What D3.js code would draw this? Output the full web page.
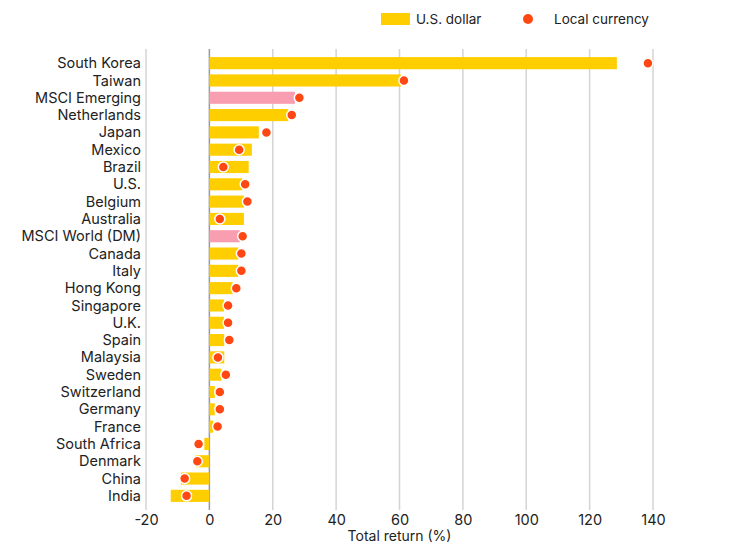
<!DOCTYPE html>
<html>
<head>
<meta charset="utf-8">
<script src="https://cdn.jsdelivr.net/npm/d3@7"></script>
<style>
  body { margin: 0; background: #fff; }
  text { font-family: Inter, "Noto Sans", sans-serif; fill: #222; }
</style>
</head>
<body>
<div id="chart"></div>
<script>
// DATA
const countries = ["South Korea", "Taiwan", "MSCI Emerging", "Netherlands", "Japan", "Mexico", "Brazil", "U.S.",
    "Belgium", "Australia", "MSCI World (DM)", "Canada", "Italy", "Hong Kong", "Singapore", "U.K.", "Spain",
    "Malaysia", "Sweden", "Switzerland", "Germany", "France", "South Africa", "Denmark", "China", "India"];
const usdReturn = [128.6, 60.4, 27.0, 24.9, 15.6, 13.4, 12.4, 10.4, 10.9, 10.9, 9.6, 9.1, 9.1, 7.3, 4.6, 4.6, 4.7,
    4.7, 3.8, 1.7, 1.7, 1.2, -1.6, -4.3, -9.0, -12.2];
const localReturn = [138.4, 61.4, 28.4, 26.0, 18.0, 9.4, 4.4, 11.3, 12.0, 3.3, 10.5, 10.1, 10.1, 8.5, 5.9, 5.9, 6.3,
    2.7, 5.2, 3.3, 3.3, 2.6, -3.4, -3.8, -7.8, -7.2];
const indexRows = ["MSCI Emerging", "MSCI World (DM)"];
const xTicks = [-20, 0, 20, 40, 60, 80, 100, 120, 140];

const data = countries.map((c, i) => ({ name: c, usd: usdReturn[i], local: localReturn[i] }));

const width = 732;
const height = 559;

const svg = d3.select("#chart")
    .append("svg")
    .attr("width", width)
    .attr("height", height);

// SCALES
const xScale = d3.scaleLinear()
    .domain([-20, 140])
    .range([146, 653]);

const yScale = d3.scaleBand()
    .domain(countries)
    .range([54.5, 504.5])
    .paddingInner(0.3)
    .paddingOuter(0.15);

// GRID
svg.append("g")
    .selectAll("line")
    .data(xTicks)
    .enter()
    .append("line")
    .attr("x1", d => xScale(d))
    .attr("x2", d => xScale(d))
    .attr("y1", 49)
    .attr("y2", 510)
    .attr("stroke", d => d === 0 ? "#9a9a9a" : "#d4d4d4")
    .attr("stroke-width", 1.5);

// X AXIS
const xAxis = d3.axisBottom(xScale)
    .tickValues(xTicks)
    .tickFormat(d => String(d))
    .tickSize(0)
    .tickPadding(5);

const xAxisGroup = svg.append("g")
    .attr("transform", `translate(0, 510)`)
    .call(xAxis);
xAxisGroup.select(".domain").remove();
xAxisGroup.selectAll("text")
    .style("font-size", "14.5px")
    .attr("fill", "#222");

svg.append("text")
    .attr("x", xScale(60))
    .attr("y", 541)
    .attr("text-anchor", "middle")
    .style("font-size", "14px")
    .text("Total return (%)");

// BARS
svg.append("g")
    .selectAll("rect")
    .data(data)
    .enter()
    .append("rect")
    .attr("x", d => xScale(Math.min(0, d.usd)))
    .attr("y", d => yScale(d.name))
    .attr("width", d => Math.abs(xScale(d.usd) - xScale(0)))
    .attr("height", yScale.bandwidth())
    .attr("fill", d => indexRows.includes(d.name) ? "#f99db1" : "#ffce00");

// DOTS
svg.append("g")
    .selectAll("circle")
    .data(data)
    .enter()
    .append("circle")
    .attr("cx", d => xScale(d.local))
    .attr("cy", d => yScale(d.name) + yScale.bandwidth() / 2)
    .attr("r", 5)
    .attr("fill", "#ff4713")
    .attr("stroke", "#fff")
    .attr("stroke-width", 1.5);

// LABELS
svg.append("g")
    .selectAll("text")
    .data(data)
    .enter()
    .append("text")
    .attr("x", 141)
    .attr("y", d => yScale(d.name) + yScale.bandwidth() / 2)
    .attr("dy", "0.35em")
    .attr("text-anchor", "end")
    .style("font-size", "14.5px")
    .text(d => d.name);

// LEGEND
const legend = svg.append("g");
legend.append("rect")
    .attr("x", 381)
    .attr("y", 13)
    .attr("width", 29)
    .attr("height", 12)
    .attr("fill", "#ffce00");
legend.append("text")
    .attr("x", 416)
    .attr("y", 19)
    .attr("dy", "0.35em")
    .style("font-size", "13.5px")
    .text("U.S. dollar");
legend.append("circle")
    .attr("cx", 528)
    .attr("cy", 19)
    .attr("r", 5)
    .attr("fill", "#ff4713");
legend.append("text")
    .attr("x", 554)
    .attr("y", 19)
    .attr("dy", "0.35em")
    .style("font-size", "13.5px")
    .text("Local currency");
</script>
</body>
</html>
